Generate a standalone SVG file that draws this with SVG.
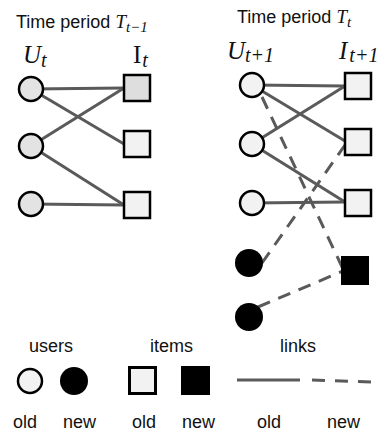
<svg xmlns="http://www.w3.org/2000/svg" width="383" height="436" viewBox="0 0 383 436">
  <style>
    .lbl { font-family: "Liberation Sans", Arial, sans-serif; font-size: 18px; fill: #111; }
    .math { font-family: "Liberation Serif", "Times New Roman", serif; fill: #111; }
    .it { font-style: italic; }
    .old-u { fill: #f2f2f2; stroke: #000; stroke-width: 2.5; }
    .old-u-prev { fill: #e3e3e3; stroke: #000; stroke-width: 2.5; }
    .old-i { fill: #f2f2f2; stroke: #000; stroke-width: 2.5; }
    .new { fill: #000; }
    .link { stroke: #5a5a5a; stroke-width: 3; fill: none; }
    .link-new { stroke: #5a5a5a; stroke-width: 3; fill: none; stroke-dasharray: 13 9; }
  </style>

  <!-- titles and set labels -->
  <g id="titles">
    <text class="lbl" x="16" y="28">Time period <tspan class="math it" font-size="19">T</tspan><tspan class="math it" font-size="15" dy="4">t−1</tspan></text>
    <text class="lbl" x="237" y="23">Time period <tspan class="math it" font-size="19">T</tspan><tspan class="math it" font-size="15" dy="4">t</tspan></text>
    <text class="math it" x="23" y="63" font-size="25">U<tspan font-size="20" dy="4">t</tspan></text>
    <text class="math" x="133" y="63" font-size="25">I<tspan class="it" font-size="20" dy="4" dx="1">t</tspan></text>
    <text class="math it" x="227" y="59" font-size="25">U<tspan font-size="20" dy="3">t+1</tspan></text>
    <text class="math it" x="339" y="59" font-size="25">I<tspan font-size="20" dy="3" dx="2">t+1</tspan></text>
  </g>

  <!-- user-item links -->
  <g id="connectors">
    <!-- period T(t-1) -->
    <line class="link" x1="31" y1="89" x2="124" y2="88"/>
    <line class="link" x1="31" y1="89" x2="124" y2="144"/>
    <line class="link" x1="31" y1="146" x2="124" y2="88"/>
    <line class="link" x1="31" y1="146" x2="124" y2="205"/>
    <line class="link" x1="31" y1="204" x2="124" y2="205"/>
    <!-- period T(t), old links -->
    <line class="link" x1="252" y1="85" x2="345" y2="86"/>
    <line class="link" x1="252" y1="85" x2="345" y2="141"/>
    <line class="link" x1="252" y1="144" x2="345" y2="86"/>
    <line class="link" x1="252" y1="144" x2="345" y2="202"/>
    <line class="link" x1="252" y1="203" x2="345" y2="202"/>
    <!-- period T(t), new links -->
    <line class="link-new" x1="262" y1="97" x2="343" y2="269"/>
    <line class="link-new" x1="262" y1="263" x2="345" y2="145"/>
    <line class="link-new" x1="258" y1="307" x2="343" y2="271"/>
  </g>

  <!-- period T(t-1) users -->
  <g id="u-prev-1"><circle class="old-u-prev" cx="31" cy="89" r="12"/></g>
  <g id="u-prev-2"><circle class="old-u-prev" cx="31" cy="146" r="12"/></g>
  <g id="u-prev-3"><circle class="old-u-prev" cx="31" cy="204" r="12"/></g>
  <!-- period T(t-1) items -->
  <g id="i-prev-1"><rect x="124" y="75" width="26" height="26" fill="#dedede" stroke="#000" stroke-width="2.5"/></g>
  <g id="i-prev-2"><rect class="old-i" x="124" y="131" width="26" height="26"/></g>
  <g id="i-prev-3"><rect class="old-i" x="124" y="192" width="26" height="26"/></g>

  <!-- period T(t) users -->
  <g id="u-1"><circle class="old-u" cx="252" cy="85" r="12"/></g>
  <g id="u-2"><circle class="old-u" cx="252" cy="144" r="12"/></g>
  <g id="u-3"><circle class="old-u" cx="252" cy="203" r="12"/></g>
  <g id="u-new-1"><circle class="new" cx="249" cy="263" r="14"/></g>
  <g id="u-new-2"><circle class="new" cx="249" cy="317" r="14"/></g>
  <!-- period T(t) items -->
  <g id="i-1"><rect class="old-i" x="345" y="73" width="26" height="26"/></g>
  <g id="i-2"><rect class="old-i" x="345" y="129" width="26" height="26"/></g>
  <g id="i-3"><rect class="old-i" x="345" y="190" width="26" height="26"/></g>
  <g id="i-new"><rect class="new" x="341" y="256" width="28" height="29"/></g>

  <!-- legend -->
  <g id="legend">
    <text class="lbl" x="29" y="352">users</text>
    <text class="lbl" x="150" y="352">items</text>
    <text class="lbl" x="280" y="352">links</text>
    <circle class="old-u" cx="30" cy="381" r="12"/>
    <circle class="new" cx="74" cy="381" r="14"/>
    <rect x="129.5" y="367.5" width="26" height="26" fill="#f2f2f2" stroke="#000" stroke-width="3"/>
    <rect class="new" x="181" y="366" width="29" height="29"/>
    <line class="link" x1="237" y1="380" x2="300" y2="380"/>
    <line class="link" x1="312" y1="380" x2="372" y2="382" stroke-dasharray="13 10"/>
    <text class="lbl" x="13" y="428">old</text>
    <text class="lbl" x="63" y="428">new</text>
    <text class="lbl" x="132" y="428">old</text>
    <text class="lbl" x="182" y="428">new</text>
    <text class="lbl" x="257" y="428">old</text>
    <text class="lbl" x="327" y="428">new</text>
  </g>
</svg>
